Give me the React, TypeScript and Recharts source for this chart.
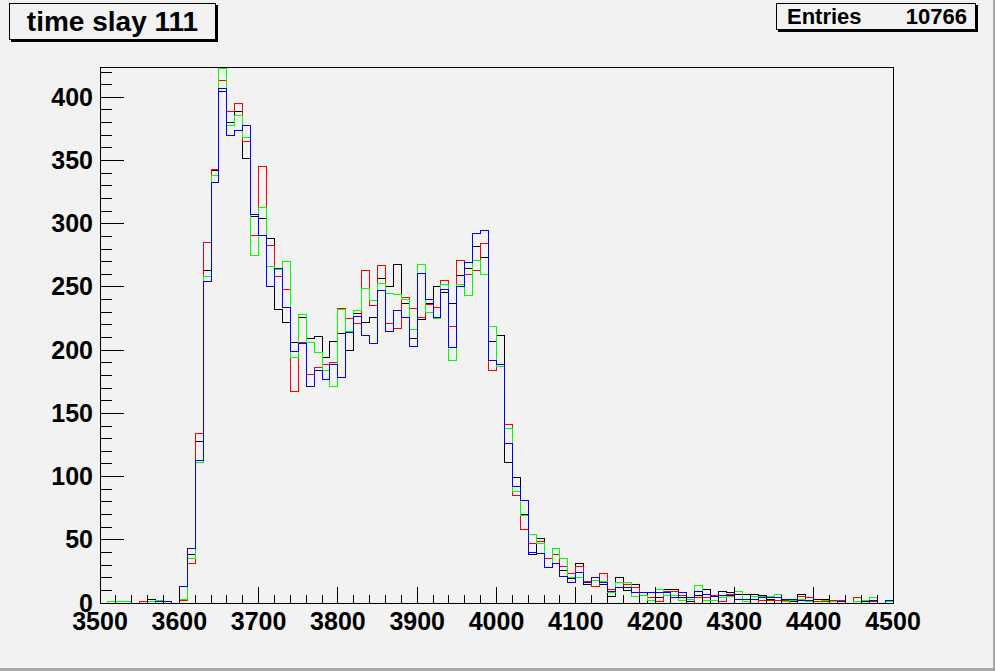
import React from 'react';
import { LineChart, Line, XAxis, YAxis, ReferenceArea } from 'recharts';

// Histogram binning: 100 bins of width 10 from 3500 to 4500
const BIN_START = 3500;
const BIN_WIDTH = 10;

const blackCounts = [
  0, 0, 0, 0, 0, 0, 3, 1, 0, 0,
  3, 38, 128, 263, 342, 405, 380, 389, 352, 306,
  304, 288, 232, 222, 206, 226, 209, 211, 194, 207,
  213, 200, 229, 222, 226, 257, 250, 268, 237, 209,
  224, 237, 250, 246, 237, 259, 265, 282, 273, 207,
  212, 111, 99, 70, 38, 51, 35, 31, 26, 19,
  31, 15, 20, 15, 5, 20, 10, 15, 8, 0,
  4, 11, 11, 4, 1, 6, 11, 0, 9, 8,
  7, 7, 7, 6, 3, 0, 0, 1, 7, 1,
  3, 3, 0, 1, 0, 1, 1, 0, 0, 0,
];

const redCounts = [
  0, 0, 1, 1, 0, 1, 0, 0, 1, 0,
  2, 31, 134, 285, 343, 413, 389, 395, 365, 291,
  345, 283, 258, 248, 167, 206, 181, 186, 189, 190,
  233, 225, 221, 263, 235, 267, 221, 217, 242, 233,
  226, 236, 234, 255, 219, 271, 260, 263, 284, 184,
  187, 141, 85, 58, 47, 49, 35, 38, 29, 23,
  29, 17, 13, 23, 11, 16, 15, 12, 6, 4,
  1, 9, 9, 6, 0, 4, 4, 6, 1, 7,
  3, 1, 0, 2, 2, 2, 2, 0, 5, 4,
  1, 1, 2, 2, 0, 4, 0, 1, 0, 1,
];

const greenCounts = [
  0, 1, 1, 1, 0, 0, 1, 2, 1, 0,
  3, 35, 111, 258, 338, 423, 378, 386, 368, 275,
  313, 266, 264, 270, 194, 228, 206, 198, 184, 171,
  232, 215, 231, 249, 239, 253, 245, 244, 240, 216,
  268, 230, 225, 252, 192, 252, 243, 271, 260, 219,
  187, 138, 88, 69, 54, 47, 28, 43, 35, 20,
  20, 16, 18, 17, 8, 16, 16, 5, 6, 2,
  11, 6, 6, 2, 3, 14, 2, 2, 4, 5,
  9, 1, 5, 5, 5, 7, 1, 2, 3, 1,
  0, 2, 1, 0, 0, 1, 2, 4, 0, 1,
];

const blueCounts = [
  0, 0, 0, 0, 0, 0, 0, 1, 1, 0,
  13, 43, 113, 254, 333, 407, 370, 374, 378, 307,
  291, 250, 265, 234, 199, 205, 171, 184, 177, 189,
  178, 214, 227, 212, 205, 247, 215, 231, 226, 203,
  261, 240, 226, 248, 202, 250, 269, 292, 295, 192,
  189, 126, 92, 81, 40, 39, 28, 31, 21, 16,
  24, 16, 20, 16, 9, 12, 12, 8, 8, 8,
  8, 8, 4, 8, 4, 9, 7, 5, 6, 6,
  3, 3, 3, 4, 4, 4, 3, 3, 2, 2,
  0, 0, 0, 1, 0, 0, 0, 2, 0, 2,
];

const xMajorTicks = [3500, 3600, 3700, 3800, 3900, 4000, 4100, 4200, 4300, 4400, 4500];
const yMajorTicks = [0, 50, 100, 150, 200, 250, 300, 350, 400];
const X_MIN = 3500;
const X_MAX = 4500;
const Y_MAX = 424;

const titleText = 'time slay 111';
const entriesLabel = 'Entries';
const entriesValue = '10766';

// Build the table
const nBins = blackCounts.length;
const data: any[] = [];
for (let i = 0; i < nBins; i++) {
  data.push({
    x: BIN_START + i * BIN_WIDTH,
    k: blackCounts[i],
    r: redCounts[i],
    g: greenCounts[i],
    b: blueCounts[i],
  });
}
data.push({
  x: BIN_START + nBins * BIN_WIDTH,
  k: blackCounts[nBins - 1],
  r: redCounts[nBins - 1],
  g: greenCounts[nBins - 1],
  b: blueCounts[nBins - 1],
});

const xTicks: number[] = [];
for (let v = X_MIN; v <= X_MAX; v += 20) xTicks.push(v);
const yTicks: number[] = [];
for (let v = 0; v <= 420; v += 10) yTicks.push(v);

const FONT = '"Liberation Sans", Arial, Helvetica, sans-serif';

const XTick = (props: any) => {
  const { x, y, payload } = props;
  const v = payload.value;
  const major = xMajorTicks.includes(v);
  return (
    <g>
      <line x1={x} x2={x} y1={y} y2={y - (major ? 16 : 8)} stroke="#000" strokeWidth={1} />
      {major && (
        <text x={x} y={y + 27} textAnchor="middle" fontFamily={FONT} fontWeight="bold" fontSize={25} fill="#000">
          {v}
        </text>
      )}
    </g>
  );
};

const YTick = (props: any) => {
  const { x, y, payload } = props;
  const v = payload.value;
  const major = yMajorTicks.includes(v);
  return (
    <g>
      <line x1={x} x2={x + (major ? 24 : 12)} y1={y} y2={y} stroke="#000" strokeWidth={1} />
      {major && (
        <text x={x - 7} y={y} dy="0.34em" textAnchor="end" fontFamily={FONT} fontWeight="bold" fontSize={25} fill="#000">
          {v}
        </text>
      )}
    </g>
  );
};

export default function App() {
  return (
    <div
      style={{
        position: 'absolute',
        left: 0,
        top: 0,
        width: 995,
        height: 671,
        boxSizing: 'border-box',
        borderRight: '2px solid #a8a8a8',
        borderBottom: '3px solid #a8a8a8',
        background: '#f2f2f2',
        overflow: 'hidden',
      }}
    >
      <div style={{ position: 'absolute', left: 0, top: 0, shapeRendering: 'crispEdges' } as any}>
        <LineChart width={995} height={671} data={data} margin={{ top: 67, right: 102, bottom: 0, left: 0 }}>
          <XAxis
            dataKey="x"
            type="number"
            domain={[X_MIN, X_MAX]}
            ticks={xTicks}
            interval={0}
            tick={<XTick />}
            tickSize={0}
            tickMargin={0}
            axisLine={false}
            height={68}
            allowDataOverflow
          />
          <YAxis
            type="number"
            domain={[0, Y_MAX]}
            ticks={yTicks}
            interval={0}
            tick={<YTick />}
            tickSize={0}
            tickMargin={0}
            axisLine={false}
            width={100}
            allowDataOverflow
          />
          <ReferenceArea x1={X_MIN} x2={X_MAX} y1={0} y2={Y_MAX} fill="none" stroke="#000" strokeWidth={1} ifOverflow="visible" />
          <Line type="stepAfter" dataKey="k" stroke="#000000" strokeWidth={1} dot={false} isAnimationActive={false} />
          <Line type="stepAfter" dataKey="r" stroke="#ff0000" strokeWidth={1} dot={false} isAnimationActive={false} />
          <Line type="stepAfter" dataKey="g" stroke="#00ff00" strokeWidth={1} dot={false} isAnimationActive={false} />
          <Line type="stepAfter" dataKey="b" stroke="#0000ff" strokeWidth={1} dot={false} isAnimationActive={false} />
        </LineChart>
      </div>
      <div
        style={{
          position: 'absolute',
          left: 9,
          top: 3,
          width: 205,
          height: 35,
          border: '1px solid #000',
          boxShadow: '2px 2px 0 #000',
          background: '#f2f2f2',
          fontFamily: FONT,
          fontWeight: 'bold',
          fontSize: 28,
          lineHeight: '35px',
          textAlign: 'center',
          color: '#000',
        }}
      >
        {titleText}
      </div>
      <div
        style={{
          position: 'absolute',
          left: 776,
          top: 3,
          width: 198,
          height: 25,
          border: '1px solid #000',
          boxShadow: '2px 2px 0 #000',
          background: '#f2f2f2',
          fontFamily: FONT,
          fontWeight: 'bold',
          fontSize: 22,
          lineHeight: '25px',
          color: '#000',
        }}
      >
        <span style={{ position: 'absolute', left: 10 }}>{entriesLabel}</span>
        <span style={{ position: 'absolute', right: 8 }}>{entriesValue}</span>
      </div>
    </div>
  );
}
